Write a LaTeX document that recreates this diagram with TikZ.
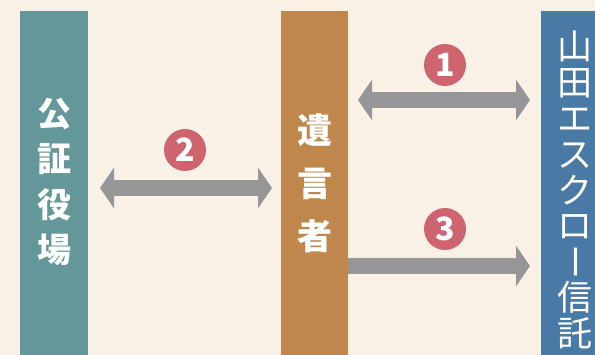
\documentclass[tikz,border=0pt]{standalone}
\usepackage{fontspec}
\setmainfont{Noto Sans}
\newfontfamily\cjk{Noto Sans CJK JP}
\usetikzlibrary{arrows.meta}
\definecolor{bgc}{HTML}{F9F1E5}
\definecolor{tealc}{HTML}{64979A}
\definecolor{brownc}{HTML}{C0874D}
\definecolor{bluec}{HTML}{4979A5}
\definecolor{badgec}{HTML}{CE6470}
\definecolor{grayc}{HTML}{969699}
\begin{document}
\begin{tikzpicture}[x=1pt,y=-1pt,
  bar/.style={draw=none,minimum height=344pt,inner sep=0pt,anchor=north west},
  lbl/.style={text=white,align=center,inner sep=0pt},
  badge/.style={circle,fill=badgec,minimum size=42pt,inner sep=0pt,text=white,font=\cjk\bfseries\fontsize{32}{32}\selectfont},
  fat/.style={draw=grayc,line width=16pt}
]
\useasboundingbox (0,0) rectangle (595,355);
\clip (0,0) rectangle (595,355);
\fill[bgc] (0,0) rectangle (595,355);
% bars
\node[bar,fill=tealc,minimum width=68pt] (kosho) at (20,11) {};
\node[bar,fill=brownc,minimum width=67pt] (isho) at (281,11) {};
\node[bar,fill=bluec,minimum width=68pt] (yamada) at (541,11) {};
% labels
\node[lbl,font=\cjk\bfseries\fontsize{34}{45.5}\selectfont] (t1) at (54,182) {公\\証\\役\\場};
\node[lbl,font=\cjk\bfseries\fontsize{35}{53}\selectfont] (t2) at (315,183) {遺\\言\\者};
\node[lbl,font=\cjk\fontsize{35}{35.8}\selectfont] (t3) at (575,190) {山\\田\\エ\\ス\\ク\\ロ\\\rotatebox[origin=c]{-90}{\vphantom{田}ー}\\信\\託};
% arrows
\coordinate (a2l) at (100,188);
\coordinate (a2r) at (272,188);
\coordinate (a1l) at (358,100);
\coordinate (a1r) at (530,100);
\coordinate (a3l) at (348,266);
\coordinate (a3r) at (530,266);
\draw[fat,{Triangle[width=40pt,length=14pt]}-{Triangle[width=40pt,length=14pt]}] (a2l) -- (a2r);
\draw[fat,{Triangle[width=40pt,length=14pt]}-{Triangle[width=40pt,length=14pt]}] (a1l) -- (a1r);
\draw[fat,-{Triangle[width=40pt,length=14pt]}] (a3l) -- (a3r);
% badges
\node[badge] (b2) at (185,150) {2};
\node[badge] (b1) at (445,65) {1};
\node[badge] (b3) at (445,229) {3};
\end{tikzpicture}
\end{document}
